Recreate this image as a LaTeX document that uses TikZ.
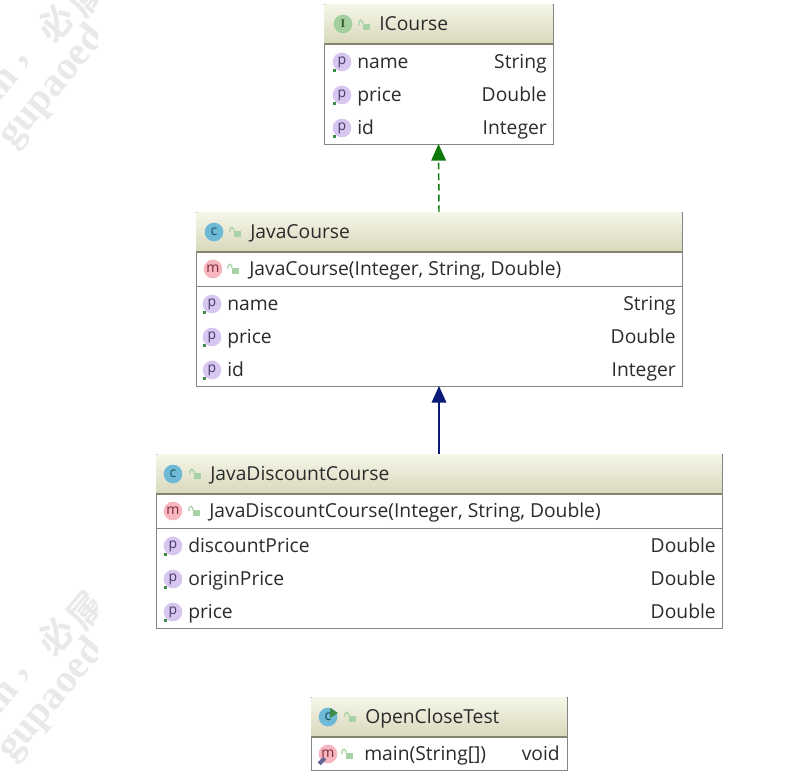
\documentclass[tikz,border=0pt]{standalone}
\usepackage{fontspec}
\setmainfont{Open Sans}
\newfontfamily\wmlatin{Liberation Serif}[BoldFont={Liberation Serif Bold}]
\newfontfamily\wmcjk{Noto Sans CJK SC}[BoldFont={Noto Sans CJK SC Bold}]
\usetikzlibrary{arrows.meta,calc}
\definecolor{cborder}{HTML}{858585}
\definecolor{cheadtop}{HTML}{F6F6E9}
\definecolor{cheadbot}{HTML}{D8D8BC}
\definecolor{cheadline}{HTML}{85856F}
\definecolor{ctext}{HTML}{2B2B2B}
\definecolor{cp}{HTML}{D6C6F0}
\definecolor{cpt}{HTML}{4A3A68}
\definecolor{cm}{HTML}{F7B5BE}
\definecolor{cmt}{HTML}{7A2A36}
\definecolor{cc}{HTML}{6DB9D6}
\definecolor{cct}{HTML}{1C4C60}
\definecolor{ci}{HTML}{A3CF9F}
\definecolor{cit}{HTML}{2F5A2A}
\definecolor{clock}{HTML}{A6D2A6}
\definecolor{cdot}{HTML}{3E8E4A}
\definecolor{cimpl}{HTML}{0B7A0B}
\definecolor{cext}{HTML}{0A1A78}
\definecolor{cwm}{HTML}{E9E9E9}
\tikzset{
  x=0.75pt,y=-0.75pt,
  boxbody/.style={draw=cborder,line width=0.65pt,fill=white,inner sep=0,outer sep=0,anchor=north west},
  headbar/.style={top color=cheadtop,bottom color=cheadbot,draw=none,inner sep=0,outer sep=0,anchor=north west},
  rowtext/.style={font=\fontsize{14.45pt}{16pt}\selectfont,text=ctext,inner sep=0,anchor=base west,yshift=-0.6pt},
  rowtype/.style={font=\fontsize{14.45pt}{16pt}\selectfont,text=ctext,inner sep=0,anchor=base east,yshift=-0.6pt},
  badge/.style={circle,minimum size=14pt,inner sep=0,font=\fontsize{10.5pt}{10pt}\selectfont},
  pbadge/.style={badge,fill=cp,text=cpt},
  mbadge/.style={badge,fill=cm,text=cmt},
  cbadge/.style={badge,fill=cc,text=cct},
  ibadge/.style={badge,fill=ci,text=cit},
  depline/.style={cimpl,line width=1.1pt,dash pattern=on 5pt off 3pt,-{Triangle[length=12.5pt,width=11pt,cimpl]}},
  extline/.style={cext,line width=1.1pt,-{Triangle[length=12.5pt,width=11pt,cext]}},
  wmlat/.style={text=cwm,inner sep=0,rotate=50,anchor=center,font=\fontsize{30pt}{30pt}\selectfont\wmlatin\bfseries},
  wmhan/.style={text=cwm,inner sep=0,rotate=50,anchor=center,font=\fontsize{27pt}{27pt}\selectfont\wmcjk\bfseries},
}
\newcommand{\lockat}[2]{%
  \fill[clock] ($(#1,#2)+(-1.5,-1)$) rectangle ($(#1,#2)+(5.5,5)$);
  \draw[clock,line width=0.9pt] ($(#1,#2)+(-5,0)$) -- ($(#1,#2)+(-5,-3)$) arc[start angle=180,end angle=0,radius=1.4pt] -- ($(#1,#2)+(-1.3,-1)$);
}
\newcommand{\dotat}[2]{\fill[cdot] ($(#1,#2)+(-9.5,7)$) rectangle ($(#1,#2)+(-6.5,10)$);}
\begin{document}
\begin{tikzpicture}
\useasboundingbox (0,0) rectangle (791,781);
\fill[white] (0,0) rectangle (791,781);
% watermark
\begin{scope}
\clip (0,0) rectangle (97,170);
\node[wmlat] (wa) at (53,87) {gupaoed};
\node[wmhan] (wb) at (55,23) {必};
\node[wmhan] (wc) at (86,-3) {属};
\node[wmlat] (wd) at (25,62) {,};
\node[wmlat] (wi) at (2,85) {m};
\end{scope}
\begin{scope}
\clip (0,590) rectangle (97,781);
\node[wmlat] (we) at (52,700) {gupaoed};
\node[wmhan] (wf) at (55,636) {必};
\node[wmhan] (wg) at (86,610) {属};
\node[wmlat] (wh) at (25,675) {,};
\node[wmlat] (wj) at (2,698) {m};
\end{scope}
% ICourse
\node[boxbody,minimum width=171.75pt,minimum height=105pt] (icourse) at (324,4) {};
\node[headbar,minimum width=171pt,minimum height=29.5pt] (icourseh) at (324.5,4.5) {};
\draw[cheadline,line width=1pt] (324,44) -- (553,44);
\node[ibadge] (icoursei) at (343,24) {\wmlatin\fontsize{9pt}{9pt}\selectfont\bfseries I};
\lockat{364}{25}
\node[rowtext] (icoursen) at (379,30) {ICourse};
\node[pbadge] (ic1) at (342,62) {p}; \dotat{342}{62}
\node[rowtext] (ic1n) at (357,68) {name};
\node[rowtype] (ic1t) at (547,68) {String};
\node[pbadge] (ic2) at (342,95) {p}; \dotat{342}{95}
\node[rowtext] (ic2n) at (357,101) {price};
\node[rowtype] (ic2t) at (547,101) {Double};
\node[pbadge] (ic3) at (342,128) {p}; \dotat{342}{128}
\node[rowtext] (ic3n) at (357,134) {id};
\node[rowtype] (ic3t) at (547,134) {Integer};
% JavaCourse
\node[boxbody,minimum width=364.5pt,minimum height=130.5pt] (jc) at (196,212) {};
\node[headbar,minimum width=363.75pt,minimum height=29.5pt] (jch) at (196.5,212.5) {};
\draw[cheadline,line width=1pt] (196,252) -- (682,252);
\draw[cborder,line width=0.65pt] (196,286) -- (682,286);
\node[cbadge] (jci) at (214,232) {c};
\lockat{235}{232}
\node[rowtext] (jcn) at (250,238) {JavaCourse};
\node[mbadge] (jcm) at (213,269) {m};
\lockat{233}{269}
\node[rowtext] (jcmn) at (249,275) {JavaCourse(Integer, String, Double)};
\node[pbadge] (jc1) at (212,304) {p}; \dotat{212}{304}
\node[rowtext] (jc1n) at (227,310) {name};
\node[rowtype] (jc1t) at (676,310) {String};
\node[pbadge] (jc2) at (212,337) {p}; \dotat{212}{337}
\node[rowtext] (jc2n) at (227,343) {price};
\node[rowtype] (jc2t) at (676,343) {Double};
\node[pbadge] (jc3) at (212,370) {p}; \dotat{212}{370}
\node[rowtext] (jc3n) at (227,376) {id};
\node[rowtype] (jc3t) at (676,376) {Integer};
% JavaDiscountCourse
\node[boxbody,minimum width=424.5pt,minimum height=130.5pt] (jd) at (156,454) {};
\node[headbar,minimum width=423.75pt,minimum height=29.5pt] (jdh) at (156.5,454.5) {};
\draw[cheadline,line width=1pt] (156,494) -- (722,494);
\draw[cborder,line width=0.65pt] (156,528) -- (722,528);
\node[cbadge] (jdi) at (173,474) {c};
\lockat{195}{474}
\node[rowtext] (jdn) at (210,480) {JavaDiscountCourse};
\node[mbadge] (jdm) at (173,511) {m};
\lockat{194}{511}
\node[rowtext] (jdmn) at (209,517) {JavaDiscountCourse(Integer, String, Double)};
\node[pbadge] (jd1) at (173,546) {p}; \dotat{173}{546}
\node[rowtext] (jd1n) at (188,552) {discountPrice};
\node[rowtype] (jd1t) at (716,552) {Double};
\node[pbadge] (jd2) at (173,579) {p}; \dotat{173}{579}
\node[rowtext] (jd2n) at (188,585) {originPrice};
\node[rowtype] (jd2t) at (716,585) {Double};
\node[pbadge] (jd3) at (173,612) {p}; \dotat{173}{612}
\node[rowtext] (jd3n) at (188,618) {price};
\node[rowtype] (jd3t) at (716,618) {Double};
% OpenCloseTest
\node[boxbody,minimum width=192pt,minimum height=54.75pt] (oc) at (311,697) {};
\node[headbar,minimum width=191.25pt,minimum height=29.5pt] (och) at (311.5,697.5) {};
\draw[cheadline,line width=1pt] (311,737) -- (567,737);
\node[cbadge] (oci) at (328,717) {c};
\fill[cdot] (330,708) -- (338,713) -- (330,718) -- cycle;
\lockat{350}{717}
\node[rowtext] (ocn) at (365,723) {OpenCloseTest};
\node[mbadge] (ocm) at (328,754) {m};
\fill[gray!80!blue,rotate around={45:(322,761)}] (318,759) rectangle (326,763);
\lockat{347}{754}
\node[rowtext] (ocmn) at (364,760) {main(String[])};
\node[rowtype] (ocmt) at (560,760) {void};
% connectors
\draw[depline] (jc.north) -- (icourse.south);
\draw[extline] (jd.north) -- (jc.south);
\end{tikzpicture}
\end{document}
